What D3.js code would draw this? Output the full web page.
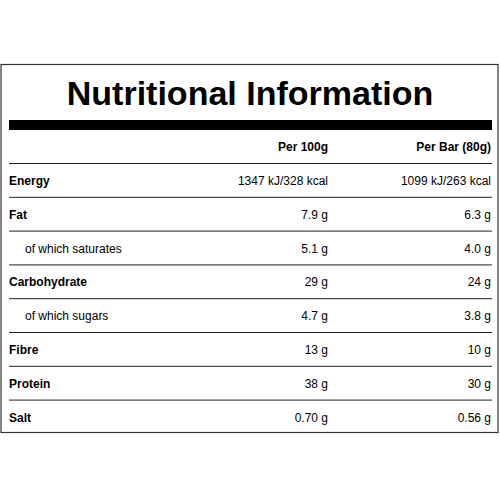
<!DOCTYPE html><html><head><script src="https://d3js.org/d3.v7.min.js"></script>
<style>body{margin:0;background:#fff}</style></head><body><script>
const title = "Nutritional Information";
const columns = ["Per 100g", "Per Bar (80g)"];
const nutrients = ["Energy","Fat","of which saturates","Carbohydrate","of which sugars","Fibre","Protein","Salt"];
const subRow = [false,false,true,false,true,false,false,false];
const per100 = ["1347 kJ/328 kcal","7.9 g","5.1 g","29 g","4.7 g","13 g","38 g","0.70 g"];
const perBar = ["1099 kJ/263 kcal","6.3 g","4.0 g","24 g","3.8 g","10 g","30 g","0.56 g"];

const svg = d3.select("body").append("svg").attr("width",500).attr("height",500);
const F = "Arial, 'Liberation Sans', sans-serif";
svg.append("rect").attr("x",1).attr("y",64.5).attr("width",497).attr("height",368).attr("fill","none").attr("stroke","#333").attr("stroke-width",1.2);
svg.append("text").attr("x",250).attr("y",105).attr("text-anchor","middle").attr("font-family",F).attr("font-weight","bold").attr("font-size",34).attr("fill","#000").text(title);
svg.append("rect").attr("x",9).attr("y",120).attr("width",483).attr("height",10).attr("fill","#000");
const y = d3.scaleLinear().domain([0,8]).range([181,451.4]);
const cx = [328,491];
svg.selectAll(".h").data(columns).join("text").attr("x",(d,i)=>cx[i]).attr("y",151).attr("text-anchor","end")
  .attr("font-family",F).attr("font-weight","bold").attr("font-size",12).text(d=>d);
svg.selectAll(".l").data(d3.range(8)).join("line").attr("x1",9).attr("x2",492)
  .attr("y1",i=>y(i)-17.5).attr("y2",i=>y(i)-17.5).attr("stroke","#222").attr("stroke-width",1);
const g = svg.selectAll(".r").data(nutrients).join("g").attr("transform",(d,i)=>`translate(0,${y(i)+4})`).attr("font-family",F).attr("font-size",12);
g.append("text").attr("x",(d,i)=>subRow[i]?25:9).attr("font-weight",(d,i)=>subRow[i]?"normal":"bold").text(d=>d);
g.append("text").attr("x",cx[0]).attr("text-anchor","end").text((d,i)=>per100[i]);
g.append("text").attr("x",cx[1]).attr("text-anchor","end").text((d,i)=>perBar[i]);
</script></body></html>
